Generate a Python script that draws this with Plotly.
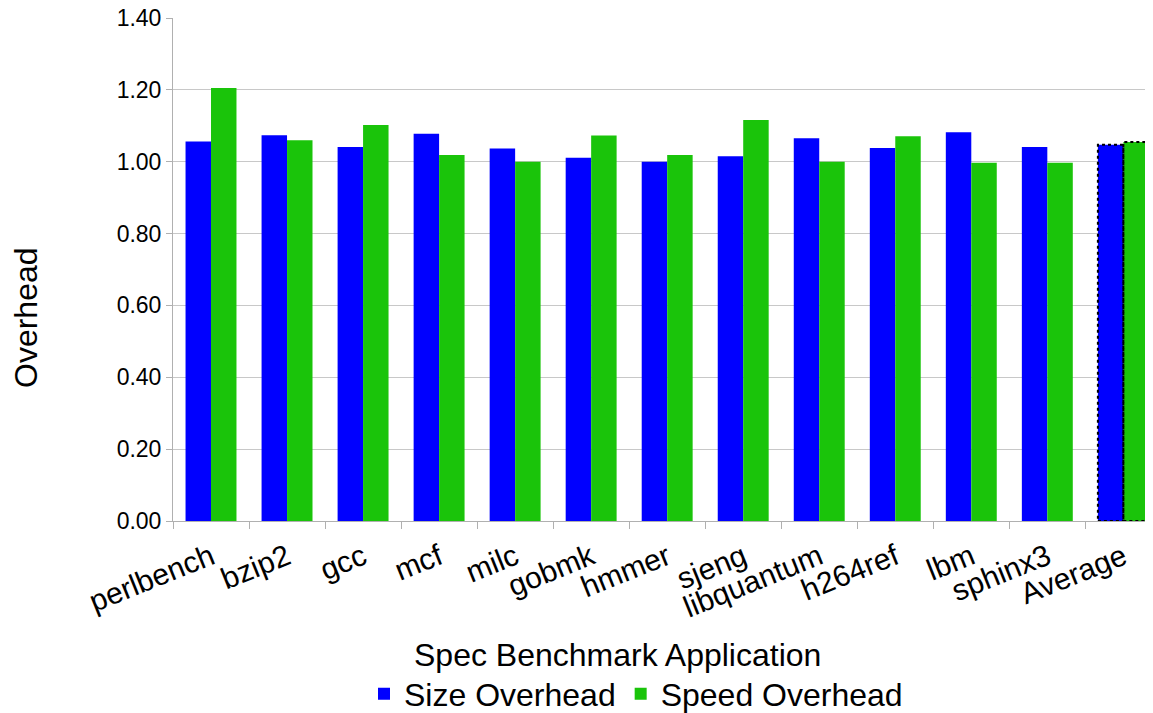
import plotly.graph_objects as go

categories = ["perlbench", "bzip2", "gcc", "mcf", "milc", "gobmk", "hmmer",
              "sjeng", "libquantum", "h264ref", "lbm", "sphinx3", "Average"]
size_overhead = [1.056, 1.074, 1.041, 1.078, 1.037, 1.011, 1.000,
                 1.015, 1.065, 1.038, 1.082, 1.041, 1.047]
speed_overhead = [1.205, 1.060, 1.102, 1.019, 1.000, 1.073, 1.019,
                  1.116, 1.000, 1.071, 0.997, 0.997, 1.055]
y_ticks = [0.0, 0.2, 0.4, 0.6, 0.8, 1.0, 1.2, 1.4]

BLUE = "#0000ff"
GREEN = "#1ac40a"
FONT = "Liberation Sans"
BARGAP = 0.33

fig = go.Figure()
fig.add_trace(go.Bar(x=categories, y=size_overhead, name="Size Overhead",
                     marker=dict(color=BLUE, line=dict(width=0))))
fig.add_trace(go.Bar(x=categories, y=speed_overhead, name="Speed Overhead",
                     marker=dict(color=GREEN, line=dict(width=0))))

# dotted outline around the Average bars, derived from data and bar geometry
avg_idx = categories.index("Average")
w = (1 - BARGAP) / 2
for k, vals in enumerate([size_overhead, speed_overhead]):
    x0 = avg_idx - w + k * w
    fig.add_shape(type="rect", xref="x", yref="y",
                  x0=x0, x1=x0 + w, y0=0, y1=vals[avg_idx],
                  line=dict(color="black", width=2, dash="dot"),
                  fillcolor="rgba(0,0,0,0)", layer="above")

# the page body has an 8px margin; compensate so the plot lands in place
OFF = 8
W, H = 1153, 713
L = 173 - OFF
T = 18 - OFF
B = H - (521 - OFF)
R = W - (1153 - OFF)
pw = W - L - R
ph = H - T - B

def px_x(x):
    return (x - 173) / pw

def px_y(y):
    return (521 - y) / ph

fig.update_layout(
    width=W, height=H, autosize=False,
    margin=dict(l=L, r=R, t=T, b=B, pad=0, autoexpand=False),
    paper_bgcolor="white", plot_bgcolor="white",
    barmode="group", bargap=BARGAP, bargroupgap=0,
    font=dict(family=FONT, color="black"),
    showlegend=True,
    legend=dict(orientation="h", x=px_x(636), xanchor="center",
                y=px_y(694), yanchor="middle",
                font=dict(size=32, family=FONT),
                traceorder="normal"),
    xaxis=dict(type="category", range=[-0.5, 12.39], automargin=False,
               tickangle=-22, tickfont=dict(size=30, family=FONT),
               ticks="outside", tickson="boundaries", ticklen=7,
               ticklabelstandoff=6,
               tickcolor="#b0b0b0", showline=True, linecolor="#b0b0b0",
               showgrid=False),
    yaxis=dict(range=[0, 1.4], tickvals=y_ticks, tickformat=".2f",
               automargin=False, ticklabeloverflow="allow",
               tickfont=dict(size=23, family=FONT),
               ticks="outside", ticklen=6, tickcolor="#b0b0b0",
               showline=True, linecolor="#b0b0b0", linewidth=1,
               showgrid=True, gridcolor="#c8c8c8", gridwidth=1,
               zeroline=False),
    annotations=[
        dict(text="Spec Benchmark Application", xref="paper", yref="paper",
             x=px_x(617), y=px_y(655), xanchor="center", yanchor="middle",
             showarrow=False, font=dict(size=32, family=FONT)),
        dict(text="Overhead", xref="paper", yref="paper",
             x=px_x(26), y=px_y(318), xanchor="center", yanchor="middle",
             textangle=-90, showarrow=False, font=dict(size=32, family=FONT)),
    ],
)

fig.write_html("out.html")
